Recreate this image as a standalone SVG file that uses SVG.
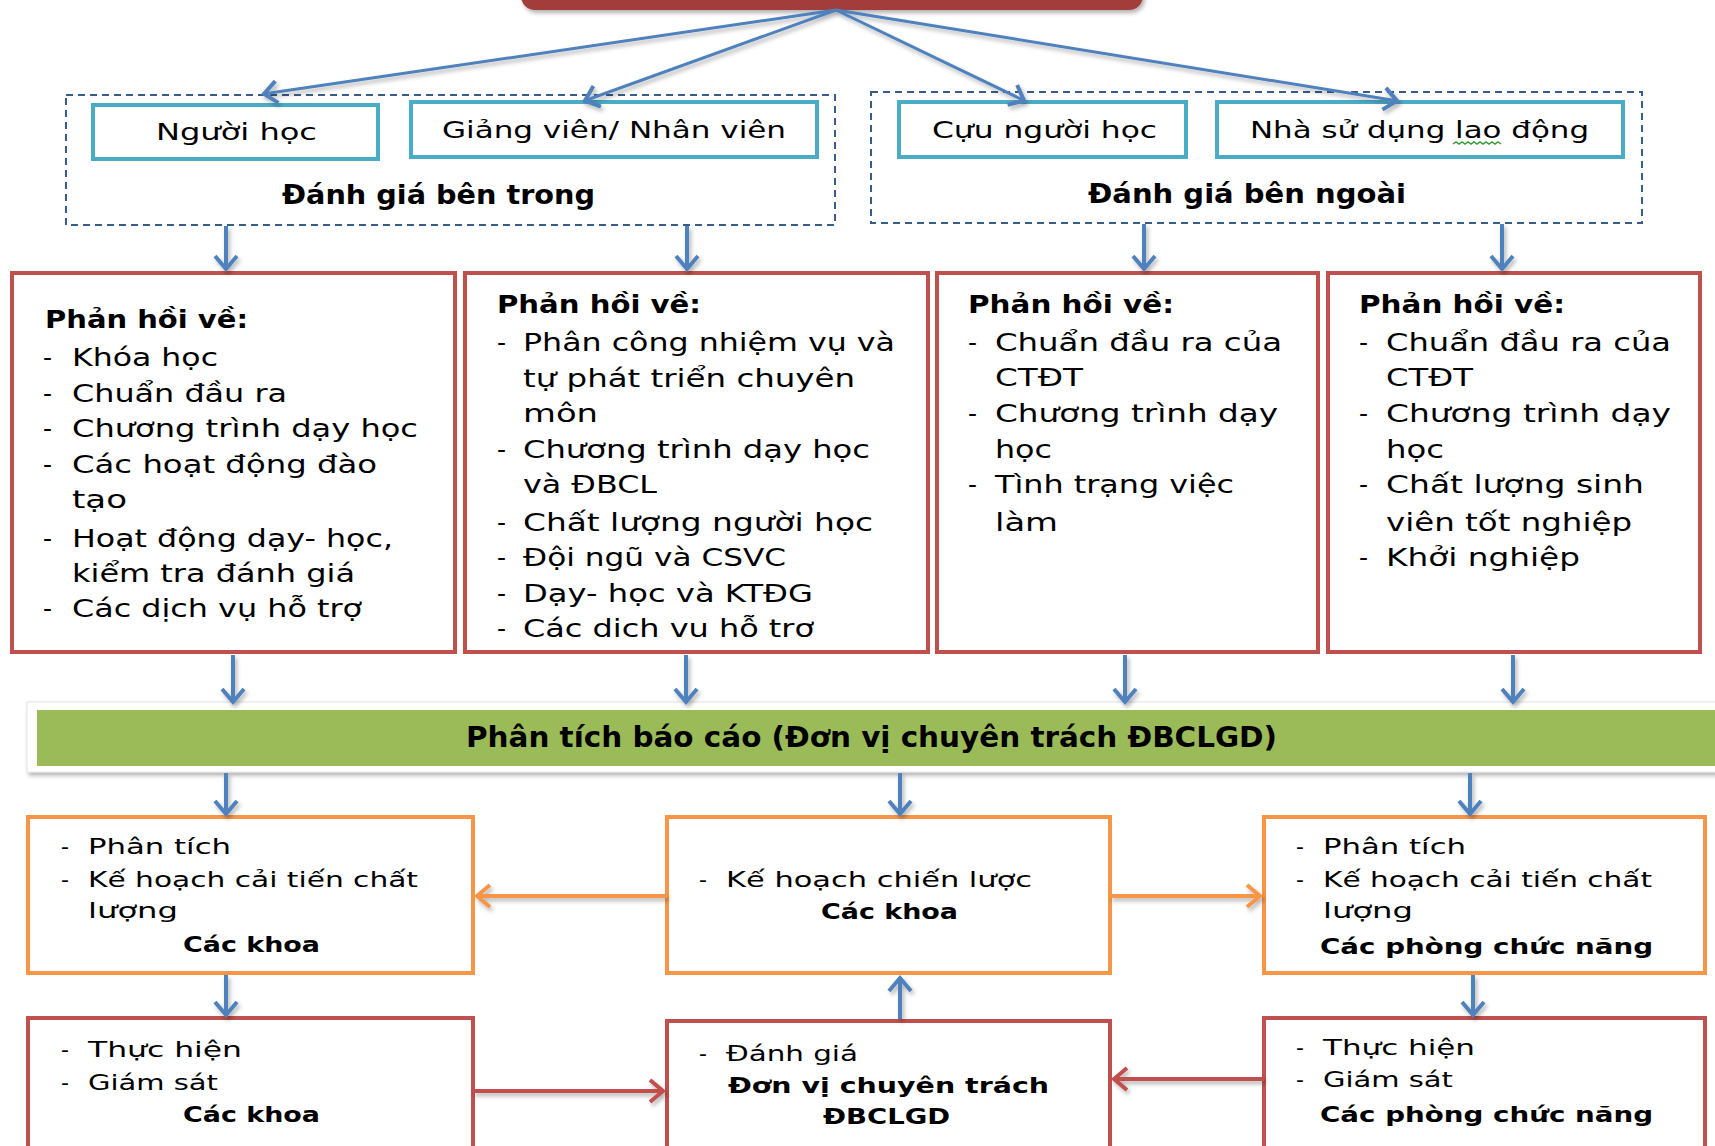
<svg xmlns="http://www.w3.org/2000/svg" width="1715" height="1146" viewBox="0 0 1715 1146">
<style>
.t{font-family:"DejaVu Sans","Liberation Sans",sans-serif;fill:#000}
.b{font-weight:bold}
.s23{font-size:23px}.s26{font-size:26px}.s25{font-size:25px}.s22{font-size:22px}.s28{font-size:28px}
.teal{fill:#fff;stroke:#4BACC6;stroke-width:4}
.red{fill:#fff;stroke:#C0504D;stroke-width:4}
.org{fill:#fff;stroke:#F79646;stroke-width:4}
.dash{fill:none;stroke:#385D8A;stroke-width:2;stroke-dasharray:7 5}
.cb{stroke:#4F81BD;stroke-width:4;fill:none;marker-end:url(#mb)}
.cbt{stroke:#4F81BD;stroke-width:3;fill:none;marker-end:url(#mb)}
.co{stroke:#F79646;stroke-width:4;fill:none;marker-end:url(#mo)}
.cr{stroke:#C0504D;stroke-width:4;fill:none;marker-end:url(#mr)}
</style>
<defs>
<filter id="sh" filterUnits="userSpaceOnUse" x="0" y="-50" width="1715" height="1250"><feDropShadow dx="2" dy="3" stdDeviation="2" flood-color="#000" flood-opacity="0.3"/></filter>
<marker id="mb" viewBox="-20 -14 26 28" refX="0" refY="0" markerWidth="26" markerHeight="28" markerUnits="userSpaceOnUse" orient="auto"><path d="M-14,-11 L-1,0 L-14,11" fill="none" stroke="#4F81BD" stroke-width="4"/></marker>
<marker id="mo" viewBox="-20 -14 26 28" refX="0" refY="0" markerWidth="26" markerHeight="28" markerUnits="userSpaceOnUse" orient="auto"><path d="M-14,-11 L-1,0 L-14,11" fill="none" stroke="#F79646" stroke-width="4"/></marker>
<marker id="mr" viewBox="-20 -14 26 28" refX="0" refY="0" markerWidth="26" markerHeight="28" markerUnits="userSpaceOnUse" orient="auto"><path d="M-14,-11 L-1,0 L-14,11" fill="none" stroke="#C0504D" stroke-width="4"/></marker>
</defs>
<rect width="1715" height="1146" fill="#fff"/>

<g id="top">
<rect x="521" y="-40" width="622" height="50" rx="14" fill="#A33D3A" filter="url(#sh)"/>
</g>

<g id="inner-group">
<rect class="dash" x="66" y="95" width="769" height="130"/>
<text class="t b s26" x="282" y="204" textLength="313" lengthAdjust="spacingAndGlyphs">Đánh giá bên trong</text>
</g>
<g id="nguoi-hoc">
<rect class="teal" x="93" y="105" width="285" height="54"/>
<text class="t s23" x="156" y="140" textLength="161" lengthAdjust="spacingAndGlyphs">Người học</text>
</g>
<g id="giang-vien">
<rect class="teal" x="411" y="102" width="406" height="55"/>
<text class="t s23" x="442" y="138" textLength="344" lengthAdjust="spacingAndGlyphs">Giảng viên/ Nhân viên</text>
</g>

<g id="outer-group">
<rect class="dash" x="871" y="92" width="771" height="131"/>
<text class="t b s26" x="1088" y="203" textLength="318" lengthAdjust="spacingAndGlyphs">Đánh giá bên ngoài</text>
</g>
<g id="cuu-nguoi-hoc">
<rect class="teal" x="899" y="102" width="287" height="55"/>
<text class="t s23" x="932" y="138" textLength="225" lengthAdjust="spacingAndGlyphs">Cựu người học</text>
</g>
<g id="nha-su-dung">
<rect class="teal" x="1217" y="102" width="406" height="55"/>
<text class="t s23" x="1250" y="138" textLength="339" lengthAdjust="spacingAndGlyphs">Nhà sử dụng lao động</text>
<path d="M1453,144 l3,-2 l3,2 l3,-2 l3,2 l3,-2 l3,2 l3,-2 l3,2 l3,-2 l3,2 l3,-2 l3,2 l3,-2 l3,2 l3,-2 l3,2" fill="none" stroke="#3A9A3A" stroke-width="1.5"/>
</g>

<g id="phan-hoi-1">
<rect class="red" x="12" y="273" width="443" height="379"/>
<text class="t b s25" x="45" y="328" textLength="203" lengthAdjust="spacingAndGlyphs">Phản hồi về:</text>
<g class="t s25">
<text x="43" y="366">-</text><text x="72" y="366" textLength="146" lengthAdjust="spacingAndGlyphs">Khóa học</text>
<text x="43" y="402">-</text><text x="72" y="402" textLength="215" lengthAdjust="spacingAndGlyphs">Chuẩn đầu ra</text>
<text x="43" y="437">-</text><text x="72" y="437" textLength="346" lengthAdjust="spacingAndGlyphs">Chương trình dạy học</text>
<text x="43" y="473">-</text><text x="72" y="473" textLength="305" lengthAdjust="spacingAndGlyphs">Các hoạt động đào</text>
<text x="72" y="508" textLength="55" lengthAdjust="spacingAndGlyphs">tạo</text>
<text x="43" y="547">-</text><text x="72" y="547" textLength="321" lengthAdjust="spacingAndGlyphs">Hoạt động dạy- học,</text>
<text x="72" y="582" textLength="283" lengthAdjust="spacingAndGlyphs">kiểm tra đánh giá</text>
<text x="43" y="617">-</text><text x="72" y="617" textLength="290" lengthAdjust="spacingAndGlyphs">Các dịch vụ hỗ trợ</text>
</g>
</g>

<g id="phan-hoi-2">
<rect class="red" x="465" y="273" width="463" height="379"/>
<text class="t b s25" x="497" y="313" textLength="204" lengthAdjust="spacingAndGlyphs">Phản hồi về:</text>
<g class="t s25">
<text x="497" y="351">-</text><text x="523" y="351" textLength="372" lengthAdjust="spacingAndGlyphs">Phân công nhiệm vụ và</text>
<text x="523" y="387" textLength="332" lengthAdjust="spacingAndGlyphs">tự phát triển chuyên</text>
<text x="523" y="422" textLength="75" lengthAdjust="spacingAndGlyphs">môn</text>
<text x="497" y="458">-</text><text x="523" y="458" textLength="347" lengthAdjust="spacingAndGlyphs">Chương trình dạy học</text>
<text x="523" y="493" textLength="134" lengthAdjust="spacingAndGlyphs">và ĐBCL</text>
<text x="497" y="531">-</text><text x="523" y="531" textLength="350" lengthAdjust="spacingAndGlyphs">Chất lượng người học</text>
<text x="497" y="566">-</text><text x="523" y="566" textLength="263" lengthAdjust="spacingAndGlyphs">Đội ngũ và CSVC</text>
<text x="497" y="602">-</text><text x="523" y="602" textLength="290" lengthAdjust="spacingAndGlyphs">Dạy- học và KTĐG</text>
<text x="497" y="637">-</text><text x="523" y="637" textLength="291" lengthAdjust="spacingAndGlyphs">Các dich vu hỗ trơ</text>
</g>
</g>

<g id="phan-hoi-3">
<rect class="red" x="937" y="273" width="381" height="379"/>
<text class="t b s25" x="968" y="313" textLength="206" lengthAdjust="spacingAndGlyphs">Phản hồi về:</text>
<g class="t s25">
<text x="968" y="351">-</text><text x="995" y="351" textLength="287" lengthAdjust="spacingAndGlyphs">Chuẩn đầu ra của</text>
<text x="995" y="386" textLength="88" lengthAdjust="spacingAndGlyphs">CTĐT</text>
<text x="968" y="422">-</text><text x="995" y="422" textLength="283" lengthAdjust="spacingAndGlyphs">Chương trình dạy</text>
<text x="995" y="458" textLength="57" lengthAdjust="spacingAndGlyphs">học</text>
<text x="968" y="493">-</text><text x="995" y="493" textLength="239" lengthAdjust="spacingAndGlyphs">Tình trạng việc</text>
<text x="995" y="531" textLength="63" lengthAdjust="spacingAndGlyphs">làm</text>
</g>
</g>

<g id="phan-hoi-4">
<rect class="red" x="1328" y="273" width="372" height="379"/>
<text class="t b s25" x="1359" y="313" textLength="206" lengthAdjust="spacingAndGlyphs">Phản hồi về:</text>
<g class="t s25">
<text x="1359" y="351">-</text><text x="1386" y="351" textLength="285" lengthAdjust="spacingAndGlyphs">Chuẩn đầu ra của</text>
<text x="1386" y="386" textLength="87" lengthAdjust="spacingAndGlyphs">CTĐT</text>
<text x="1359" y="422">-</text><text x="1386" y="422" textLength="285" lengthAdjust="spacingAndGlyphs">Chương trình dạy</text>
<text x="1386" y="458" textLength="58" lengthAdjust="spacingAndGlyphs">học</text>
<text x="1359" y="493">-</text><text x="1386" y="493" textLength="258" lengthAdjust="spacingAndGlyphs">Chất lượng sinh</text>
<text x="1386" y="531" textLength="246" lengthAdjust="spacingAndGlyphs">viên tốt nghiệp</text>
<text x="1359" y="566">-</text><text x="1386" y="566" textLength="194" lengthAdjust="spacingAndGlyphs">Khởi nghiệp</text>
</g>
</g>

<g id="phan-tich-bao-cao">
<rect x="27" y="702" width="1700" height="70" fill="#fff" stroke="#e4e4e4" stroke-width="1" filter="url(#sh)"/>
<rect x="37" y="710" width="1690" height="56" fill="#9BBB59"/>
<text class="t b s28" x="466" y="747" textLength="811" lengthAdjust="spacingAndGlyphs">Phân tích báo cáo (Đơn vị chuyên trách ĐBCLGD)</text>
</g>

<g id="ke-hoach-khoa">
<rect class="org" x="28" y="817" width="445" height="156"/>
<g class="t s22">
<text x="61" y="854">-</text><text x="88" y="854" textLength="143" lengthAdjust="spacingAndGlyphs">Phân tích</text>
<text x="61" y="887">-</text><text x="88" y="887" textLength="330" lengthAdjust="spacingAndGlyphs">Kế hoạch cải tiến chất</text>
<text x="88" y="918" textLength="90" lengthAdjust="spacingAndGlyphs">lượng</text>
<text class="b" x="183" y="952" textLength="137" lengthAdjust="spacingAndGlyphs">Các khoa</text>
</g>
</g>

<g id="ke-hoach-chien-luoc">
<rect class="org" x="667" y="817" width="443" height="156"/>
<g class="t s22">
<text x="699" y="887">-</text><text x="726" y="887" textLength="306" lengthAdjust="spacingAndGlyphs">Kế hoạch chiến lược</text>
<text class="b" x="821" y="919" textLength="137" lengthAdjust="spacingAndGlyphs">Các khoa</text>
</g>
</g>

<g id="ke-hoach-phong">
<rect class="org" x="1264" y="817" width="441" height="156"/>
<g class="t s22">
<text x="1296" y="854">-</text><text x="1323" y="854" textLength="143" lengthAdjust="spacingAndGlyphs">Phân tích</text>
<text x="1296" y="887">-</text><text x="1323" y="887" textLength="329" lengthAdjust="spacingAndGlyphs">Kế hoạch cải tiến chất</text>
<text x="1323" y="918" textLength="90" lengthAdjust="spacingAndGlyphs">lượng</text>
<text class="b" x="1320" y="954" textLength="333" lengthAdjust="spacingAndGlyphs">Các phòng chức năng</text>
</g>
</g>

<g id="thuc-hien-khoa">
<rect class="red" x="28" y="1018" width="445" height="200"/>
<g class="t s22">
<text x="61" y="1057">-</text><text x="88" y="1057" textLength="154" lengthAdjust="spacingAndGlyphs">Thực hiện</text>
<text x="61" y="1090">-</text><text x="88" y="1090" textLength="130" lengthAdjust="spacingAndGlyphs">Giám sát</text>
<text class="b" x="183" y="1122" textLength="137" lengthAdjust="spacingAndGlyphs">Các khoa</text>
</g>
</g>

<g id="danh-gia">
<rect class="red" x="667" y="1021" width="443" height="200"/>
<g class="t s22">
<text x="699" y="1061">-</text><text x="726" y="1061" textLength="132" lengthAdjust="spacingAndGlyphs">Đánh giá</text>
<text class="b" x="728" y="1093" textLength="321" lengthAdjust="spacingAndGlyphs">Đơn vị chuyên trách</text>
<text class="b" x="823" y="1124" textLength="127" lengthAdjust="spacingAndGlyphs">ĐBCLGD</text>
</g>
</g>

<g id="thuc-hien-phong">
<rect class="red" x="1264" y="1018" width="441" height="200"/>
<g class="t s22">
<text x="1296" y="1055">-</text><text x="1323" y="1055" textLength="152" lengthAdjust="spacingAndGlyphs">Thực hiện</text>
<text x="1296" y="1087">-</text><text x="1323" y="1087" textLength="130" lengthAdjust="spacingAndGlyphs">Giám sát</text>
<text class="b" x="1320" y="1122" textLength="333" lengthAdjust="spacingAndGlyphs">Các phòng chức năng</text>
</g>
</g>

<g id="connectors" filter="url(#sh)">
<line class="cbt" x1="836" y1="10" x2="263" y2="94"/>
<line class="cbt" x1="836" y1="10" x2="584" y2="101"/>
<line class="cbt" x1="836" y1="10" x2="1025" y2="101"/>
<line class="cbt" x1="836" y1="10" x2="1398" y2="101"/>
<line class="cb" x1="226" y1="226" x2="226" y2="270"/>
<line class="cb" x1="687" y1="226" x2="687" y2="270"/>
<line class="cb" x1="1144" y1="224" x2="1144" y2="270"/>
<line class="cb" x1="1502" y1="224" x2="1502" y2="270"/>
<line class="cb" x1="233" y1="655" x2="233" y2="703"/>
<line class="cb" x1="686" y1="655" x2="686" y2="703"/>
<line class="cb" x1="1125" y1="655" x2="1125" y2="703"/>
<line class="cb" x1="1513" y1="655" x2="1513" y2="703"/>
<line class="cb" x1="226" y1="773" x2="226" y2="815"/>
<line class="cb" x1="900" y1="773" x2="900" y2="815"/>
<line class="cb" x1="1470" y1="773" x2="1470" y2="815"/>
<line class="cb" x1="226" y1="975" x2="226" y2="1016"/>
<line class="cb" x1="1473" y1="975" x2="1473" y2="1016"/>
<line class="cb" x1="900" y1="1019" x2="900" y2="977"/>
<line class="co" x1="667" y1="896" x2="476" y2="896"/>
<line class="co" x1="1110" y1="896" x2="1261" y2="896"/>
<line class="cr" x1="473" y1="1091" x2="664" y2="1091"/>
<line class="cr" x1="1264" y1="1079" x2="1113" y2="1079"/>
</g>
</svg>
